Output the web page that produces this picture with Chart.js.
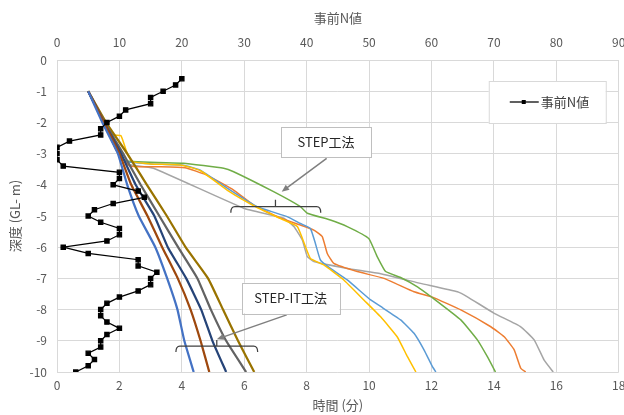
<!DOCTYPE html>
<html lang="ja">
<head>
<meta charset="utf-8">
<title>事前N値と貫入時間</title>
<script src="https://cdn.jsdelivr.net/npm/chart.js@4.4.1/dist/chart.umd.min.js"></script>
<style>
  html, body { margin: 0; padding: 0; background: #fff; }
  #cadre { width: 624px; height: 415px; }
</style>
</head>
<body>
<div id="cadre"><canvas id="graphe" width="624" height="415"></canvas></div>
<script>
/*
 * Graphique profondeur / temps (STEP et STEP-IT) avec le N-value initial
 * sur l'axe du haut.
 */

const POLICE = "'Noto Sans CJK JP', 'Liberation Sans', sans-serif";
const GRIS_TEXTE = "#595959";
const GRIS_GRILLE = "#d9d9d9";

// ---------- Donnees ----------

// 事前N値 (axe du haut), un point tous les 0,2 m
const nProfondeur = [-0.6, -0.8, -1.0, -1.2, -1.4, -1.6, -1.8, -2.0, -2.2, -2.4,
  -2.6, -2.8, -3.0, -3.2, -3.4, -3.6, -3.8, -4.0, -4.2, -4.4,
  -4.6, -4.8, -5.0, -5.2, -5.4, -5.6, -5.8, -6.0, -6.2, -6.4,
  -6.6, -6.8, -7.0, -7.2, -7.4, -7.6, -7.8, -8.0, -8.2, -8.4,
  -8.6, -8.8, -9.0, -9.2, -9.4, -9.6, -9.8, -10.0];
const nValeur = [20, 19, 17, 15, 15, 11, 10, 8, 7, 7,
  2, 0, 0, 0, 1, 10, 10, 9, 13, 14,
  9, 6, 5, 7, 10, 10, 8, 1, 5, 13,
  13, 16, 15, 15, 13, 10, 8, 7, 7, 8,
  10, 8, 7, 7, 5, 6, 5, 3];

// STEP-IT工法 : temps (min) a chaque metre
const itProfondeur = [-1, -2, -3, -4, -5, -6, -7, -8, -9, -10];
const itBleu = [1.0, 1.45, 1.95, 2.25, 2.62, 3.15, 3.53, 3.86, 4.08, 4.38];
const itBrun = [1.0, 1.5, 2.0, 2.38, 2.9, 3.37, 3.87, 4.28, 4.6, 4.88];
const itBleuFonce = [1.0, 1.5, 2.05, 2.52, 3.12, 3.55, 4.14, 4.62, 4.98, 5.42];
const itGrisFonce = [1.0, 1.52, 2.12, 2.68, 3.28, 3.88, 4.5, 4.93, 5.42, 6.06];
const itOlive = [1.0, 1.57, 2.25, 2.88, 3.52, 4.12, 4.84, 5.32, 5.8, 6.32];

// STEP工法 : couples temps / profondeur
const stepJauneT = [1.0, 1.45, 1.8, 2.05, 2.25, 2.4, 3.0, 4.0, 4.6, 5.5, 6.4, 7.2, 7.7, 7.96, 8.12, 8.55, 9.19, 9.83, 10.37, 10.9, 11.23, 11.5];
const stepJauneP = [-1.0, -1.9, -2.4, -2.43, -3.0, -3.25, -3.33, -3.37, -3.55, -4.2, -4.72, -5.1, -5.34, -5.98, -6.36, -6.57, -7.05, -7.69, -8.23, -8.87, -9.51, -10.0];

const stepCielT = [1.0, 1.5, 1.9, 2.2, 3.0, 4.05, 4.59, 5.55, 6.41, 7.37, 7.8, 8.12, 8.28, 8.44, 8.76, 9.3, 10.05, 10.37, 11.01, 11.44, 11.76, 12.03, 12.14];
const stepCielP = [-1.0, -2.0, -2.8, -3.25, -3.33, -3.37, -3.53, -4.17, -4.7, -5.02, -5.24, -5.4, -5.88, -6.41, -6.68, -7.05, -7.69, -7.9, -8.33, -8.76, -9.29, -9.83, -10.0];

const stepVertT = [1.0, 1.5, 1.9, 2.18, 4.05, 5.34, 5.66, 6.94, 7.8, 8.02, 8.76, 9.3, 9.99, 10.26, 10.53, 11.01, 11.55, 12.03, 12.94, 13.47, 13.79, 14.05];
const stepVertP = [-1.0, -2.0, -2.8, -3.23, -3.31, -3.47, -3.58, -4.22, -4.7, -4.91, -5.13, -5.34, -5.72, -6.3, -6.78, -6.97, -7.27, -7.62, -8.33, -8.97, -9.51, -10.0];

const stepOrangeT = [1.0, 1.5, 1.9, 2.34, 3.2, 4.1, 4.8, 5.66, 6.3, 7.16, 7.8, 8.23, 8.5, 8.66, 8.87, 9.62, 10.48, 11.44, 12.03, 12.94, 13.9, 14.33, 14.65, 14.86, 15.02];
const stepOrangeP = [-1.0, -2.0, -2.9, -3.4, -3.42, -3.45, -3.69, -4.17, -4.65, -5.07, -5.29, -5.45, -5.66, -6.2, -6.52, -6.78, -7.0, -7.43, -7.6, -8.01, -8.55, -8.87, -9.29, -9.88, -10.0];

const stepGrisT = [1.0, 1.5, 1.9, 2.3, 3.09, 5.98, 7.27, 7.59, 7.86, 8.02, 8.23, 9.3, 10.37, 11.65, 12.83, 13.15, 14.01, 14.86, 15.29, 15.61, 15.9];
const stepGrisP = [-1.0, -2.0, -2.9, -3.35, -3.47, -4.75, -5.07, -5.34, -5.77, -6.3, -6.46, -6.68, -6.85, -7.16, -7.43, -7.59, -8.12, -8.55, -8.97, -9.62, -10.0];

// Graduations
const tempsMin = 0, tempsMax = 18, tempsPas = 2;
const nMin = 0, nMax = 90, nPas = 10;
const profMin = -10, profMax = 0, profPas = 1;

// ---------- Construction des series ----------

function courbe(label, temps, profondeurs, couleur, epaisseur) {
  return {
    label: label,
    data: temps.map((t, i) => ({ x: t, y: profondeurs[i] })),
    xAxisID: "x",
    showLine: true,
    borderColor: couleur,
    borderWidth: epaisseur,
    pointRadius: 0,
    tension: 0.12,
    fill: false,
  };
}

const serieN = {
  label: "事前N値",
  data: nValeur.map((n, i) => ({ x: n, y: nProfondeur[i] })),
  xAxisID: "x2",
  showLine: true,
  borderColor: "#000000",
  backgroundColor: "#000000",
  borderWidth: 1.25,
  pointStyle: "rect",
  pointRadius: 3,
  tension: 0,
};

const series = [
  serieN,
  courbe("STEP-IT 1", itBleu, itProfondeur, "#4472c4", 2.25),
  courbe("STEP-IT 2", itBrun, itProfondeur, "#9e480e", 2.25),
  courbe("STEP-IT 3", itBleuFonce, itProfondeur, "#264478", 2.25),
  courbe("STEP-IT 4", itGrisFonce, itProfondeur, "#636363", 2.25),
  courbe("STEP-IT 5", itOlive, itProfondeur, "#997300", 2.25),
  courbe("STEP 1", stepJauneT, stepJauneP, "#ffc000", 1.5),
  courbe("STEP 2", stepCielT, stepCielP, "#5b9bd5", 1.5),
  courbe("STEP 3", stepVertT, stepVertP, "#70ad47", 1.5),
  courbe("STEP 4", stepOrangeT, stepOrangeP, "#ed7d31", 1.5),
  courbe("STEP 5", stepGrisT, stepGrisP, "#a5a5a5", 1.5),
];

// ---------- Plugins de dessin (legende et annotations) ----------

function fleche(ctx, x1, y1, x2, y2) {
  const angle = Math.atan2(y2 - y1, x2 - x1);
  const taille = 8;
  ctx.strokeStyle = "#7f7f7f";
  ctx.fillStyle = "#7f7f7f";
  ctx.lineWidth = 1.5;
  ctx.beginPath();
  ctx.moveTo(x1, y1);
  ctx.lineTo(x2 - Math.cos(angle) * taille * 0.8, y2 - Math.sin(angle) * taille * 0.8);
  ctx.stroke();
  ctx.beginPath();
  ctx.moveTo(x2, y2);
  ctx.lineTo(x2 - taille * Math.cos(angle - 0.4), y2 - taille * Math.sin(angle - 0.4));
  ctx.lineTo(x2 - taille * Math.cos(angle + 0.4), y2 - taille * Math.sin(angle + 0.4));
  ctx.closePath();
  ctx.fill();
}

function accolade(ctx, x1, x2, y, xm, bas, haut) {
  ctx.strokeStyle = "#404040";
  ctx.lineWidth = 1.25;
  ctx.beginPath();
  ctx.moveTo(x1, y + bas);
  ctx.quadraticCurveTo(x1, y, x1 + 4, y);
  ctx.lineTo(x2 - 4, y);
  ctx.quadraticCurveTo(x2, y, x2, y + bas);
  ctx.moveTo(xm, y);
  ctx.lineTo(xm, y - haut);
  ctx.stroke();
}

function boite(ctx, x1, y1, x2, y2, texte) {
  ctx.fillStyle = "#ffffff";
  ctx.fillRect(x1, y1, x2 - x1, y2 - y1);
  ctx.strokeStyle = "#bfbfbf";
  ctx.lineWidth = 1;
  ctx.strokeRect(Math.round(x1) + 0.5, Math.round(y1) + 0.5, Math.round(x2 - x1), Math.round(y2 - y1));
  ctx.fillStyle = "#262626";
  ctx.font = "13px " + POLICE;
  ctx.textAlign = "center";
  ctx.textBaseline = "middle";
  ctx.fillText(texte, (x1 + x2) / 2, (y1 + y2) / 2);
}

const annotations = {
  id: "annotations",
  afterDatasetsDraw(chart) {
    const ctx = chart.ctx;
    const sx = chart.scales.x, sy = chart.scales.y;
    const px = v => sx.getPixelForValue(v);
    const py = v => sy.getPixelForValue(v);
    ctx.save();

    // STEP工法
    accolade(ctx, px(5.57), px(8.45), py(-4.70), px(7.0), 6, 7);
    fleche(ctx, px(8.64), py(-3.15), px(7.2), py(-4.22));
    boite(ctx, px(7.18), py(-2.15), px(10.06), py(-3.11), "STEP工法");

    // STEP-IT工法
    accolade(ctx, px(3.81), px(6.43), py(-9.17), px(5.12), 6, 6);
    fleche(ctx, px(7.36), py(-8.17), px(5.12), py(-8.95));
    boite(ctx, px(5.92), py(-7.14), px(9.05), py(-8.12), "STEP-IT工法");

    ctx.restore();
  },
};

const legende = {
  id: "legende",
  afterDraw(chart) {
    const ctx = chart.ctx;
    const zone = chart.chartArea;
    const x = zone.right - 130, y = zone.top + 21, l = 117, h = 42;
    ctx.save();
    ctx.fillStyle = "#ffffff";
    ctx.fillRect(x, y, l, h);
    ctx.strokeStyle = GRIS_GRILLE;
    ctx.lineWidth = 1;
    ctx.strokeRect(x + 0.5, y + 0.5, l, h);
    const ym = y + h / 2;
    ctx.strokeStyle = "#000000";
    ctx.lineWidth = 1.25;
    ctx.beginPath();
    ctx.moveTo(x + 21, ym);
    ctx.lineTo(x + 50, ym);
    ctx.stroke();
    ctx.fillStyle = "#000000";
    ctx.fillRect(x + 33, ym - 2, 4, 4);
    ctx.fillStyle = "#404040";
    ctx.font = "13px " + POLICE;
    ctx.textAlign = "left";
    ctx.textBaseline = "middle";
    ctx.fillText(serieN.label, x + 52, ym);
    ctx.restore();
  },
};

// ---------- Graphique ----------

const policeTicks = { family: POLICE, size: 12 };
const policeTitre = { family: POLICE, size: 13 };

new Chart(document.getElementById("graphe"), {
  type: "scatter",
  data: { datasets: series },
  plugins: [annotations, legende],
  options: {
    responsive: false,
    animation: false,
    layout: { padding: { left: 0, right: 5, top: 0, bottom: 0 } },
    plugins: { legend: { display: false }, tooltip: { enabled: false } },
    scales: {
      x: {
        type: "linear", position: "bottom",
        min: tempsMin, max: tempsMax,
        ticks: { stepSize: tempsPas, color: GRIS_TEXTE, font: policeTicks, padding: 6 },
        grid: { color: GRIS_GRILLE, drawTicks: false },
        border: { display: false },
        title: { display: true, text: "時間 (分)", color: GRIS_TEXTE, font: policeTitre, padding: { bottom: 2 } },
        afterFit(s) { s.height = 43; s.paddingLeft = 0; s.paddingRight = 0; },
      },
      x2: {
        type: "linear", position: "top",
        min: nMin, max: nMax,
        ticks: { stepSize: nPas, color: GRIS_TEXTE, font: policeTicks, padding: 10 },
        grid: { display: false, drawTicks: false },
        border: { display: false },
        title: { display: true, text: "事前N値", color: GRIS_TEXTE, font: policeTitre, padding: { top: 10 } },
        afterFit(s) { s.height = 60; s.paddingLeft = 0; s.paddingRight = 0; },
      },
      y: {
        type: "linear", position: "left",
        min: profMin, max: profMax,
        ticks: { stepSize: profPas, color: GRIS_TEXTE, font: policeTicks, padding: 10 },
        grid: { color: GRIS_GRILLE, drawTicks: false },
        border: { display: false },
        title: { display: true, text: "深度 (GL- m)", color: GRIS_TEXTE, font: policeTitre, padding: { top: 7 } },
        afterFit(s) { s.width = 57; s.paddingTop = 0; s.paddingBottom = 0; },
      },
    },
  },
});
</script>
</body>
</html>
